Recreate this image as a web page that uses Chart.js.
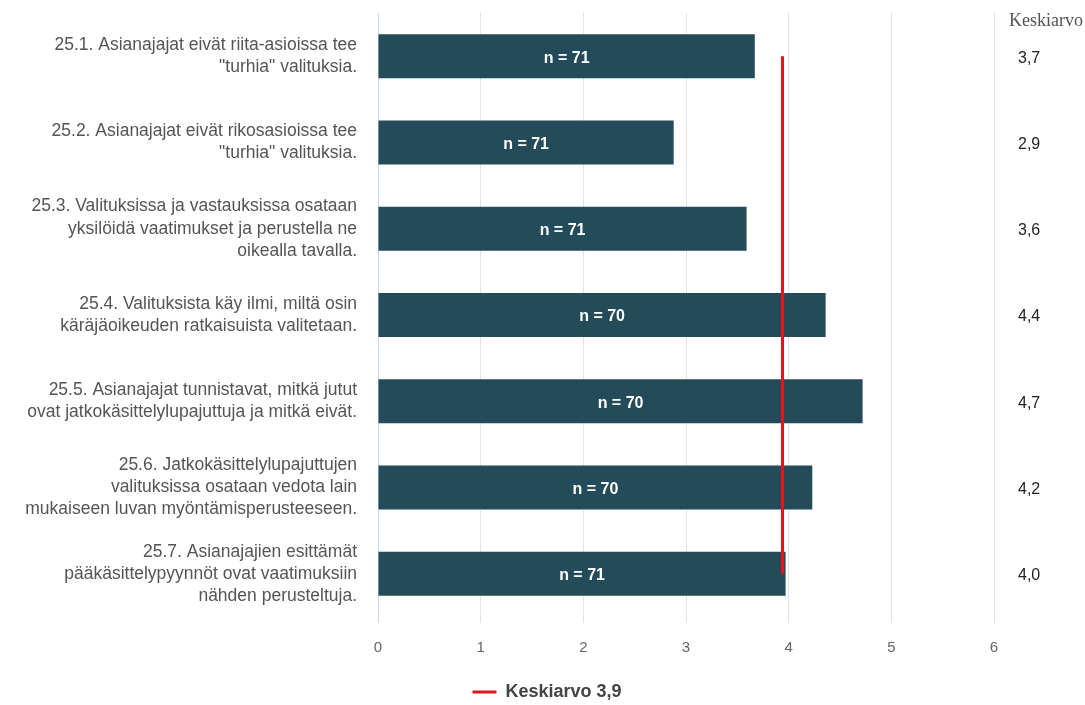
<!DOCTYPE html>
<html lang="fi">
<head>
  <meta charset="UTF-8">
  <title>Keskiarvot</title>
  <script src="https://cdn.jsdelivr.net/npm/chart.js"></script>
  <style>
    html, body { margin: 0; padding: 0; background: #fff; }
    #wrap { width: 1085px; height: 705px; position: relative; }
  </style>
</head>
<body>
  <div id="wrap"><canvas id="kaavio"></canvas></div>
  <script>
    const kysymykset = [
      ["25.1. Asianajajat eivät riita-asioissa tee", "\"turhia\" valituksia."],
      ["25.2. Asianajajat eivät rikosasioissa tee", "\"turhia\" valituksia."],
      ["25.3. Valituksissa ja vastauksissa osataan", "yksilöidä vaatimukset ja perustella ne", "oikealla tavalla."],
      ["25.4. Valituksista käy ilmi, miltä osin", "käräjäoikeuden ratkaisuista valitetaan."],
      ["25.5. Asianajajat tunnistavat, mitkä jutut", "ovat jatkokäsittelylupajuttuja ja mitkä eivät."],
      ["25.6. Jatkokäsittelylupajuttujen", "valituksissa osataan vedota lain", "mukaiseen luvan myöntämisperusteeseen."],
      ["25.7. Asianajajien esittämät", "pääkäsittelypyynnöt ovat vaatimuksiin", "nähden perusteltuja."]
    ];
    const keskiarvot = [3.67, 2.88, 3.59, 4.36, 4.72, 4.23, 3.97];
    const vastaajat = [71, 71, 71, 70, 70, 70, 71];
    const kokonaisKeskiarvo = 3.94;
    const xTicks = [0, 1, 2, 3, 4, 5, 6];

    const pilkku = v => v.toFixed(1).replace(".", ",");

    // n = .. tekstit palkkeihin ja keskiarvosarake oikealle
    const tekstit = {
      id: "tekstit",
      afterUpdate(chart) {
        // selite vähän oikealle ja alemmas, kuten alkuperäisessä
        const lg = chart.legend;
        lg.left += 50;
        lg.right += 50;
        lg.top += 6;
        lg.bottom += 6;
        lg.adjustHitBoxes();
      },
      afterDatasetsDraw(chart) {
        const ctx = chart.ctx;
        const meta = chart.getDatasetMeta(0);
        ctx.save();
        ctx.font = "bold 16px Arial";
        ctx.fillStyle = "#ffffff";
        ctx.textAlign = "center";
        ctx.textBaseline = "middle";
        meta.data.forEach((bar, i) => {
          const mid = (bar.x + bar.base) / 2;
          ctx.fillText("n = " + vastaajat[i], mid, bar.y + 2);
        });
        ctx.restore();
      },
      afterDraw(chart) {
        const ctx = chart.ctx;
        const y = chart.scales.y;
        ctx.save();
        ctx.fillStyle = "#555";
        ctx.font = "18px 'Liberation Serif'";
        ctx.textBaseline = "middle";
        ctx.textAlign = "left";
        ctx.fillText("Keskiarvo", 1009, 21);
        ctx.font = "16px Arial";
        ctx.fillStyle = "#222";
        keskiarvot.forEach((v, i) => {
          ctx.fillText(pilkku(v), 1018, y.getPixelForValue(i) + 2);
        });
        ctx.restore();
      }
    };

    new Chart(document.getElementById("kaavio"), {
      type: "bar",
      data: {
        labels: kysymykset,
        datasets: [
          {
            label: "Keskiarvo",
            data: keskiarvot,
            backgroundColor: "#244b5a",
            borderWidth: 0,
            barPercentage: 0.51,
            categoryPercentage: 1,
            order: 2
          },
          {
            type: "line",
            label: "Keskiarvo " + pilkku(kokonaisKeskiarvo),
            data: kysymykset.map(() => kokonaisKeskiarvo),
            indexAxis: "y",
            borderColor: "#e3141b",
            backgroundColor: "#e3141b",
            borderWidth: 3,
            pointRadius: 0,
            pointStyle: "line",
            order: 1
          }
        ]
      },
      options: {
        indexAxis: "y",
        responsive: true,
        maintainAspectRatio: false,
        animation: false,
        layout: { padding: { top: 13, right: 91, bottom: 0, left: 0 } },
        plugins: {
          tooltip: { enabled: false },
          legend: {
            position: "bottom",
            labels: {
              filter: item => item.datasetIndex === 1,
              usePointStyle: true,
              pointStyleWidth: 24,
              color: "#444",
              font: { family: "Arial", size: 18, weight: "bold" },
              padding: 5
            }
          }
        },
        scales: {
          x: {
            min: 0,
            max: 6,
            afterBuildTicks: s => { s.ticks = xTicks.map(v => ({ value: v })); },
            afterFit: s => { s.height = 55; },
            grid: {
              color: c => c.tick && c.tick.value === 0 ? "#c9d6e3" : "#e2e2e2",
              tickLength: 6
            },
            border: { display: false },
            ticks: { color: "#666", font: { family: "Arial", size: 15 }, padding: 16 }
          },
          y: {
            grid: { display: false },
            border: { display: true, color: "#c9d6e3" },
            afterFit: s => { s.width = 378; s.paddingTop = 0; s.paddingBottom = 0; },
            ticks: {
              color: "#555",
              font: { family: "Arial", size: 17.5, lineHeight: 1.26 },
              padding: 13
            }
          }
        }
      },
      plugins: [tekstit]
    });
  </script>
</body>
</html>
